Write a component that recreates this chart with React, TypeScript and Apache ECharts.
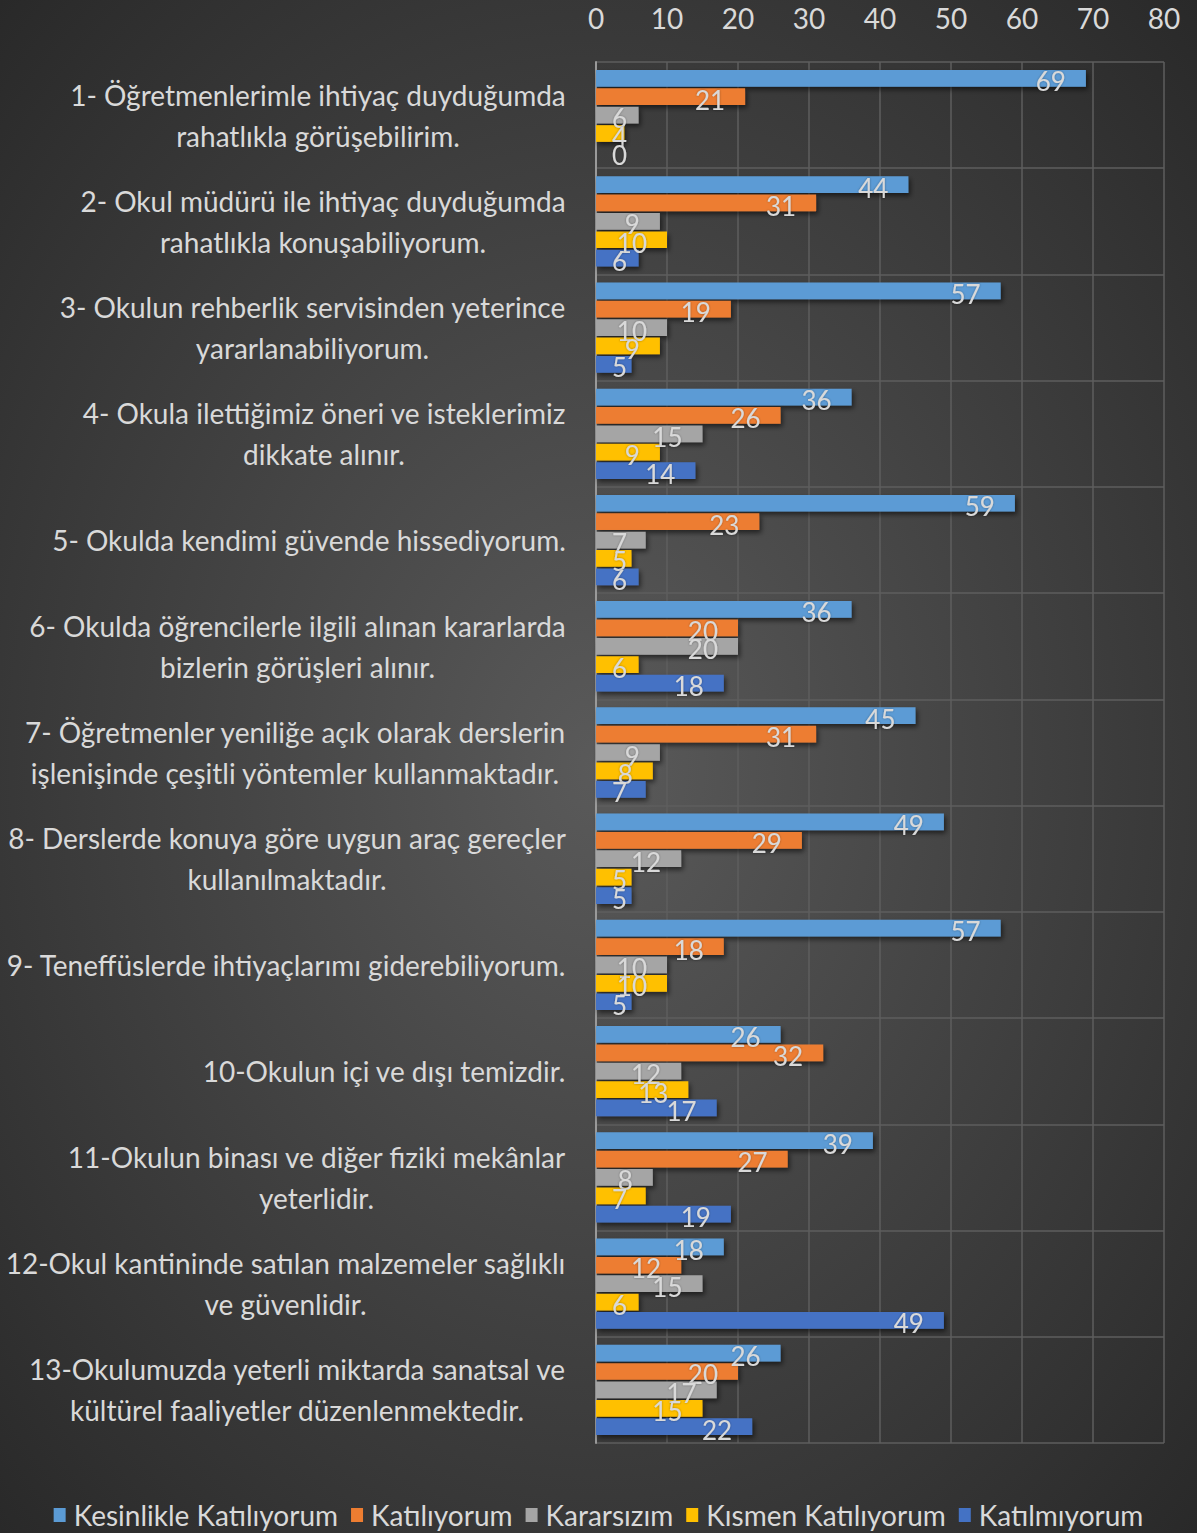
import React, { useEffect, useRef } from "react";
import * as echarts from "echarts";

const CATEGORIES = [
  "1- Öğretmenlerimle ihtiyaç duyduğumda\nrahatlıkla görüşebilirim.",
  "2- Okul müdürü ile ihtiyaç duyduğumda\nrahatlıkla konuşabiliyorum.",
  "3- Okulun rehberlik servisinden yeterince\nyararlanabiliyorum.",
  "4- Okula ilettiğimiz öneri ve isteklerimiz\ndikkate alınır.",
  "5- Okulda kendimi güvende hissediyorum.",
  "6- Okulda öğrencilerle ilgili alınan kararlarda\nbizlerin görüşleri alınır.",
  "7- Öğretmenler yeniliğe açık olarak derslerin\nişlenişinde çeşitli yöntemler kullanmaktadır.",
  "8- Derslerde konuya göre uygun araç gereçler\nkullanılmaktadır.",
  "9- Teneffüslerde ihtiyaçlarımı giderebiliyorum.",
  "10-Okulun içi ve dışı temizdir.",
  "11-Okulun binası ve diğer fiziki mekânlar\nyeterlidir.",
  "12-Okul kantininde satılan malzemeler sağlıklı\nve güvenlidir.",
  "13-Okulumuzda yeterli miktarda sanatsal ve\nkültürel faaliyetler düzenlenmektedir.",
];

const SERIES_NAMES = [
  "Kesinlikle Katılıyorum",
  "Katılıyorum",
  "Kararsızım",
  "Kısmen Katılıyorum",
  "Katılmıyorum",
];

const KESINLIKLE = [69, 44, 57, 36, 59, 36, 45, 49, 57, 26, 39, 18, 26];
const KATILIYORUM = [21, 31, 19, 26, 23, 20, 31, 29, 18, 32, 27, 12, 20];
const KARARSIZIM = [6, 9, 10, 15, 7, 20, 9, 12, 10, 12, 8, 15, 17];
const KISMEN = [4, 10, 9, 9, 5, 6, 8, 5, 10, 13, 7, 6, 15];
const KATILMIYORUM = [0, 6, 5, 14, 6, 18, 7, 5, 5, 17, 19, 49, 22];

const X_MIN = 0;
const X_MAX = 80;
const X_INTERVAL = 10;

const COLORS = ["#5b9bd5", "#ed7d31", "#a5a5a5", "#ffc000", "#4472c4"];

const FONT = "Lato";
const TEXT_COLOR = "#d9d9d9";
const CAT_FONT_SIZE = 28;
const VAL_FONT_SIZE = 26;

const W = 1197;
const H = 1533;
const GRID_LEFT = 596;
const GRID_RIGHT = 33;
const GRID_TOP = 62;
const GRID_BOTTOM = 90;

function measure(text: string, size: number): number {
  const c = document.createElement("canvas");
  const ctx = c.getContext("2d");
  if (!ctx) return text.length * size * 0.5;
  ctx.font = `${size}px ${FONT}`;
  return ctx.measureText(text).width;
}

export default function App() {
  const ref = useRef<HTMLDivElement>(null);

  useEffect(() => {
    document.body.style.margin = "0";
    if (!ref.current) return;
    const chart = echarts.init(ref.current, undefined, { renderer: "svg" });

    const rich: Record<string, any> = {};
    CATEGORIES.forEach((c, i) => {
      const lines = c.split("\n");
      const wmax = Math.max(...lines.map((l) => measure(l, CAT_FONT_SIZE)));
      rich["w" + i] = {
        width: Math.ceil(wmax) + 2,
        align: "center",
        fontSize: CAT_FONT_SIZE,
        fontFamily: FONT,
        color: TEXT_COLOR,
        lineHeight: 41,
      };
    });

    const pxPerUnit = (W - GRID_LEFT - GRID_RIGHT) / (X_MAX - X_MIN);
    const allData = [KESINLIKLE, KATILIYORUM, KARARSIZIM, KISMEN, KATILMIYORUM];

    const series = allData.map((arr, si) => ({
      name: SERIES_NAMES[si],
      type: "bar",
      barGap: "10%",
      barCategoryGap: "15%",
      itemStyle: {
        color: COLORS[si],
        shadowColor: "rgba(0,0,0,0.55)",
        shadowBlur: 5,
        shadowOffsetX: 2,
        shadowOffsetY: 3,
      },
      data: arr.map((v) => {
        const tw = measure(String(v), VAL_FONT_SIZE);
        const barLen = v * pxPerUnit;
        const fitsInside = barLen - 20 - tw >= 16;
        return {
          value: v,
          label: fitsInside
            ? { position: "insideRight", distance: 20 }
            : { position: "insideLeft", distance: 16 },
        };
      }),
      label: {
        show: true,
        color: TEXT_COLOR,
        fontSize: VAL_FONT_SIZE,
        fontFamily: FONT,
        offset: [0, 3],
        textShadowColor: "rgba(0,0,0,0.35)",
        textShadowBlur: 2,
      },
    }));

    chart.setOption({
      animation: false,
      backgroundColor: {
        type: "radial",
        x: 0.5,
        y: 0.5,
        r: 0.75,
        colorStops: [
          { offset: 0, color: "#5a5a5a" },
          { offset: 1, color: "#262626" },
        ],
      },
      textStyle: { fontFamily: FONT },
      grid: {
        left: GRID_LEFT,
        right: GRID_RIGHT,
        top: GRID_TOP,
        bottom: GRID_BOTTOM,
        containLabel: false,
      },
      legend: {
        data: SERIES_NAMES,
        top: 1496,
        left: "center",
        icon: "rect",
        itemWidth: 12,
        itemHeight: 14,
        itemGap: 13,
        textStyle: {
          color: TEXT_COLOR,
          fontSize: 28,
          fontFamily: FONT,
          padding: [0, 0, 0, 3],
        },
      },
      xAxis: {
        type: "value",
        position: "top",
        min: X_MIN,
        max: X_MAX,
        interval: X_INTERVAL,
        axisLine: { show: false },
        axisTick: { show: false },
        axisLabel: {
          color: TEXT_COLOR,
          fontSize: 28,
          fontFamily: FONT,
          margin: 30,
        },
        splitLine: { show: true, lineStyle: { color: "#5e5e5e", width: 1.5 } },
      },
      yAxis: {
        type: "category",
        inverse: true,
        data: CATEGORIES,
        axisTick: { show: false },
        axisLine: { show: true, lineStyle: { color: "#9a9a9a", width: 2 } },
        splitLine: { show: true, lineStyle: { color: "#5e5e5e", width: 1.5 } },
        axisLabel: {
          margin: 29,
          align: "right",
          rich,
          formatter: (val: string, idx: number) =>
            val
              .split("\n")
              .map((l) => `{w${idx}|${l}}`)
              .join("\n"),
        },
      },
      series,
    });

    return () => chart.dispose();
  }, []);

  return <div ref={ref} style={{ width: W, height: H }} />;
}
